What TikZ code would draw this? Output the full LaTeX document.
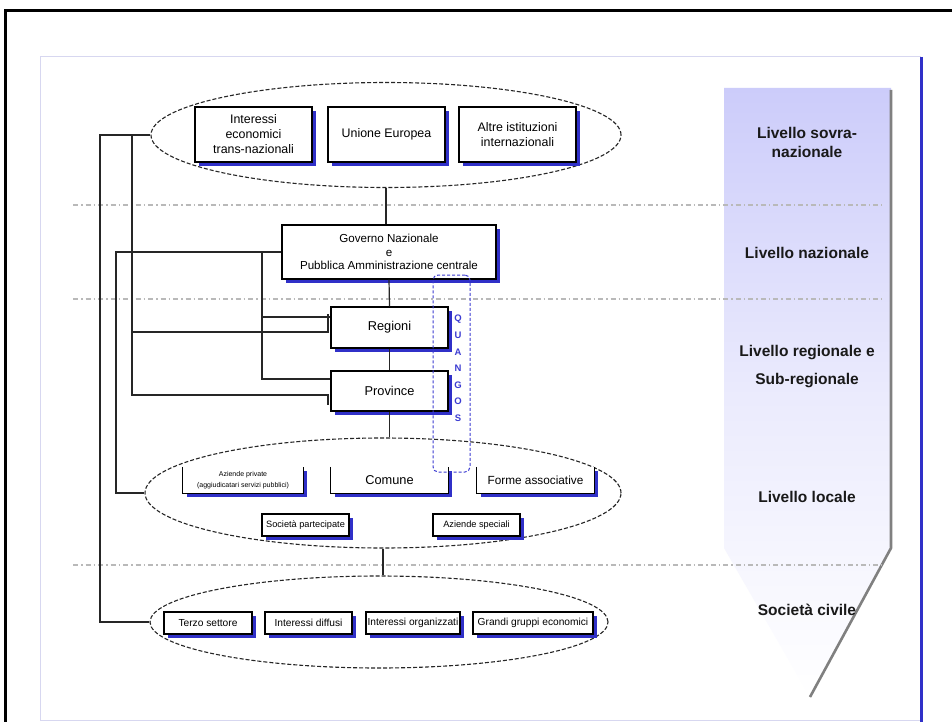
\documentclass[tikz,border=0pt]{standalone}
\usepackage{fontspec}
\setmainfont{Liberation Sans}
\usetikzlibrary{shapes.geometric,shadows}
\definecolor{shblue}{RGB}{48,48,200}
\definecolor{colcol}{RGB}{204,204,250}
\definecolor{panelc}{RGB}{215,215,240}
\definecolor{sepc}{RGB}{185,185,185}
\definecolor{qblue}{RGB}{60,60,210}
\tikzset{
  x=1pt,y=-1pt,
  boxline/.style={draw=black,line width=1.3pt},
  shbox/.style={boxline,fill=white,inner sep=1pt,align=center,
    drop shadow={shadow xshift=4pt,shadow yshift=-4pt,fill=shblue,opacity=1}},
  openbox/.style={fill=white,inner sep=1pt,align=center,
    drop shadow={shadow xshift=4pt,shadow yshift=-4pt,fill=shblue,opacity=1}},
  ell/.style={ellipse,draw=black!85,line width=1.1pt,dash pattern=on 4pt off 2pt,inner sep=0pt},
  conn/.style={draw=black!85,line width=1.2pt},
  sepline/.style={draw=sepc,line width=1.2pt,dash pattern=on 5pt off 3pt on 1.5pt off 3pt},
  lvl/.style={font=\bfseries\fontsize{15.5}{26}\selectfont,align=center,text=black!90},
  ft/.style={font=\fontsize{12.4}{15}\selectfont},
  fg/.style={font=\fontsize{11.6}{13.5}\selectfont},
  fm/.style={font=\fontsize{12.8}{15}\selectfont},
  fs/.style={font=\fontsize{10.2}{12}\selectfont},
  fxs/.style={font=\fontsize{9.2}{11}\selectfont},
}
\begin{document}
\begin{tikzpicture}
\useasboundingbox (0,0) rectangle (952,722);
\fill[white] (0,0) rectangle (952,722);
% outer frame and panel
\draw[line width=3pt] (5,722) -- (5,11) -- (952,11);
\draw[panelc,line width=1pt] (40,720) -- (40,57) -- (921,57);
\draw[panelc,line width=1pt] (40,720) -- (921,720);
\draw[shblue,line width=3pt] (921,57) -- (921,722);
% right column
\shade[top color=colcol,bottom color=white,middle color=colcol!40!white]
  (724,88) -- (891,88) -- (891,548) -- (810,697) -- (724,548) -- cycle;
\draw[gray,line width=2.6pt] (891,90) -- (891,548) -- (810,697);
% separators
\draw[sepline] (73,205) -- (882,205);
\draw[sepline] (73,299) -- (882,299);
\draw[sepline] (73,565) -- (882,565);
% ellipses
\node[ell,minimum width=470,minimum height=105] (e1) at (386,135) {};
\node[ell,minimum width=476,minimum height=110] (e2) at (383,493) {};
\node[ell,minimum width=458,minimum height=92] (e3) at (379,622) {};
% connectors
\coordinate (L1) at (100,0);
\coordinate (L2) at (132,0);
\coordinate (L3) at (116,0);
\coordinate (L4) at (262,0);
\coordinate (hr1) at (328,332);
\coordinate (hr1e) at (328,314);
\coordinate (hp1) at (328,395);
\coordinate (hp1e) at (328,405);
\draw[conn] (e1.west) -- (e1.west -| L1) -- (L1 |- e3.west) -- (e3.west);
\draw[conn] (e1.west -| L2) -- (L2 |- hp1) -- (hp1) -- (hp1e);
\draw[conn] (L2 |- hr1) -- (hr1) -- (hr1e);
% top boxes
\node[shbox,ft,minimum width=117,minimum height=55] (b1) at (253.5,134.5) {Interessi\\economici\\trans-nazionali};
\node[shbox,ft,minimum width=117,minimum height=55] (b2) at (386.5,134.5) {Unione Europea};
\node[shbox,ft,minimum width=117,minimum height=55] (b3) at (517.5,134.5) {Altre istituzioni\\internazionali};
% national and regional
\node[shbox,fg,minimum width=214,minimum height=54] (gov) at (389,252) {Governo Nazionale\\e\\Pubblica Amministrazione centrale};
\node[shbox,fm,minimum width=117,minimum height=41] (reg) at (389.5,327.5) {Regioni};
\node[shbox,fm,minimum width=117,minimum height=40] (prov) at (389.5,391) {Province};
\draw[conn] (e1.south) -- (e1.south |- gov.north);
\draw[conn] (gov.south) -- (reg.north);
\draw[conn] (reg.south) -- (prov.north);
\draw[conn] (prov.south) -- (prov.south |- e2.north);
\draw[conn] (gov.west) -- (gov.west -| L3) -- (L3 |- e2.west) -- (e2.west);
\draw[conn] (gov.west -| L4) -- (L4 |- 0,379) -- (prov.west |- 0,379);
\draw[conn] (L4 |- 0,317) -- (reg.west |- 0,317);
% local level
\node[openbox,minimum width=120,minimum height=26] (azp) at (243,480) {\fontsize{7}{8.5}\selectfont Aziende private\\[-1pt]\fontsize{7}{8.5}\selectfont(aggiudicatari servizi pubblici)};
\draw[boxline] (azp.north west) -- (azp.south west) -- (azp.south east) -- (azp.north east);
\node[openbox,fm,minimum width=117,minimum height=26] (com) at (389.5,480) {Comune};
\draw[boxline] (com.north west) -- (com.south west) -- (com.south east) -- (com.north east);
\node[openbox,font=\fontsize{11.8}{14}\selectfont,minimum width=117,minimum height=26] (forme) at (535.5,480) {Forme associative};
\draw[boxline] (forme.north west) -- (forme.south west) -- (forme.south east) -- (forme.north east);
\node[shbox,fxs,minimum width=87,minimum height=22] (socp) at (305.5,525) {Società partecipate};
\node[shbox,fxs,minimum width=87,minimum height=22] (azs) at (476.5,525) {Aziende speciali};
\draw[conn] (e2.south) -- (e2.south |- e3.north);
% civil society
\node[shbox,fs,minimum width=88,minimum height=22] (terzo) at (208,623) {Terzo settore};
\node[shbox,fs,minimum width=87,minimum height=22] (idif) at (308.5,623) {Interessi diffusi};
\node[shbox,fs,minimum width=94,minimum height=22] (iorg) at (413,623) {Interessi organizzati};
\node[shbox,fs,minimum width=120,minimum height=22] (grandi) at (533,623) {Grandi gruppi economici};
% QUANGOS
\node[draw=qblue,line width=1pt,dash pattern=on 3pt off 2pt,rounded corners=5pt,minimum width=37,minimum height=197,inner sep=0pt] (qg) at (451.5,373.5) {};
\node[text=qblue,font=\bfseries\fontsize{9.5}{16.6}\selectfont,align=center] (qtxt) at (458,368.5) {Q\\U\\A\\N\\G\\O\\S};
% level labels
\node[lvl,font=\bfseries\fontsize{15.5}{19}\selectfont] (lv1) at (807,142) {Livello sovra-\\nazionale};
\node[lvl] (lv2) at (807,253) {Livello nazionale};
\node[lvl,font=\bfseries\fontsize{15.5}{28}\selectfont] (lv3) at (807,367) {Livello regionale e\\Sub-regionale};
\node[lvl] (lv4) at (807,497) {Livello locale};
\node[lvl] (lv5) at (807,610) {Società civile};
\end{tikzpicture}
\end{document}
